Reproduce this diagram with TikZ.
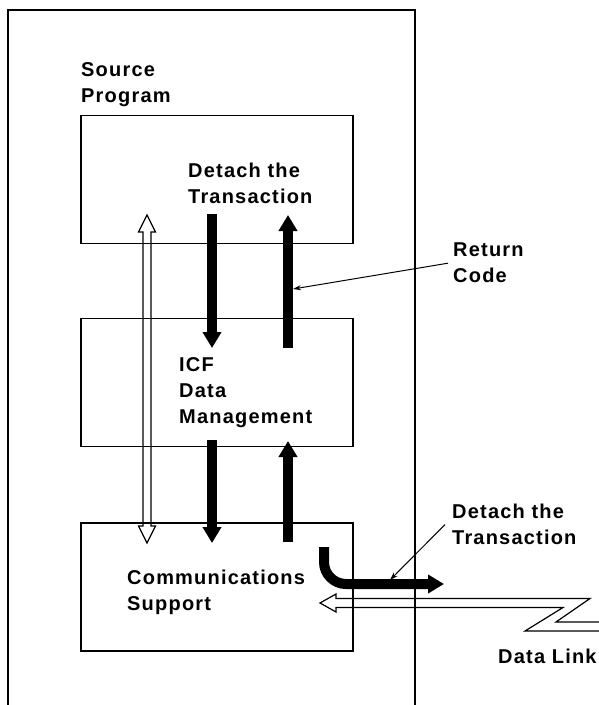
\documentclass[tikz,border=0pt]{standalone}
\usepackage{fontspec}
\setmainfont{Liberation Sans}
\newfontfamily\boxfont[LetterSpace=6]{Liberation Sans}
\usetikzlibrary{positioning,arrows.meta}
\def\hollowarrow{(147,215) -- (155.5,232) -- (151,232) -- (151,526) -- (155.5,526) -- (147,543) -- (138.5,526) -- (143,526) -- (143,232) -- (138.5,232) -- cycle}
\def\datalink{(600,622) -- (556,622) -- (590,598.5) -- (336,598.5) -- (336,594) -- (320,603) -- (336,612) -- (336,607.5) -- (563,607.5) -- (525,631) -- (600,631)}
\tikzset{
	box/.style={draw, line width=1.2pt, minimum width=272pt, minimum height=128pt, inner sep=0pt},
	boxtext/.style={font=\boxfont\bfseries\fontsize{20}{26}\selectfont, align=left, inner sep=0pt, anchor=north west},
	flow/.style={line width=10pt, -{Triangle[width=18pt,length=16pt]}},
	leader/.style={line width=1pt, -{Stealth[length=8pt,width=5pt]}}
}

\begin{document}
\begin{tikzpicture}[x=1pt,y=-1pt]
	\useasboundingbox (0,0) rectangle (599,705);
	\draw[line width=1.2pt] (8,706) -- (8,10) -- (415,10) -- (415,706);
	\node[box] (top) at (217,179.5) {};
	\node[box, below=74pt of top] (mid) {};
	\node[box, below=75pt of mid] (bot) {};
	\node[boxtext] (src) at (81,62) {Source\\Program};
	\node[boxtext] (det) at (188,163) {Detach the\\Transaction};
	\node[boxtext] (icf) at (179,357) {ICF\\Data\\Management};
	\node[boxtext] (com) at (127,570) {Communications\\Support};
	\node[boxtext] (ret) at (453,243) {Return\\Code};
	\node[boxtext] (out) at (452,504) {Detach the\\Transaction};
	\node[boxtext] (link) at (498,649) {Data Link};
	\draw[line width=1.2pt] \hollowarrow;
	\draw[line width=1.2pt] \datalink;
	\foreach \x/\ya/\yb [count=\i] in {212/214/348, 288/348/215, 212/440/543, 288/542/441} {
		\coordinate (a\i) at (\x,\ya);
		\coordinate (b\i) at (\x,\yb);
		\draw[flow] (a\i) -- (b\i);
	}
	\coordinate (cs) at (324,547);
	\coordinate (ce) at (444,584);
	\draw[flow, rounded corners=22pt] (cs) |- (ce);
	\coordinate (rc) at (293,289);
	\coordinate (dt) at (390,580);
	\draw[leader] ([xshift=-5pt]ret.west) -- (rc);
	\draw[leader] ([xshift=-7pt]out.west) -- (dt);
\end{tikzpicture}
\end{document}
